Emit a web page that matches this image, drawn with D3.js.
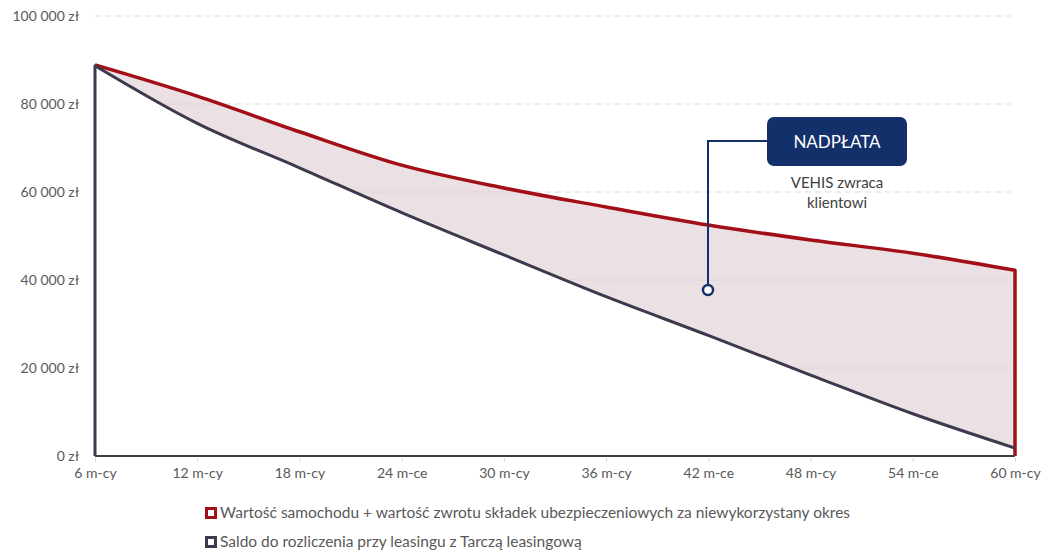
<!DOCTYPE html>
<html>
<head>
<meta charset="utf-8">
<script src="https://cdn.jsdelivr.net/npm/d3@7"></script>
<style>
  body{margin:0;background:#fff;}
  text{font-family:Lato,"Open Sans",sans-serif;}
</style>
</head>
<body>
<div class="canvas"></div>
<script>
// data
const categories=['6 m-cy','12 m-cy','18 m-cy','24 m-ce','30 m-cy','36 m-cy','42 m-ce','48 m-cy','54 m-ce','60 m-cy'];
const carValue=[88900,81800,73700,66100,60900,56600,52500,49100,46100,42200];
const balance=[88700,75600,65500,55300,45700,36200,27400,18400,9600,1800];
const yTicks=[0,20000,40000,60000,80000,100000];
const seriesNames=['Wartość samochodu + wartość zwrotu składek ubezpieczeniowych za niewykorzystany okres','Saldo do rozliczenia przy leasingu z Tarczą leasingową'];

const W=1045,H=552;
const margin={top:16,right:30,bottom:96,left:95};
const graphWidth=W-margin.left-margin.right;
const graphHeight=H-margin.top-margin.bottom;

const svg=d3.select('.canvas').append('svg')
    .attr('width',W)
    .attr('height',H);

const graph=svg.append('g')
    .attr('transform',`translate(${margin.left},${margin.top})`);

const x=d3.scalePoint().domain(categories).range([0,graphWidth]);
const y=d3.scaleLinear().domain([0,100000]).range([graphHeight,0]);

//gridlines
graph.append('g').selectAll('line')
    .data(yTicks.filter(d=>d>0))
    .enter().append('line')
    .attr('x1',0).attr('x2',graphWidth)
    .attr('y1',d=>y(d)).attr('y2',d=>y(d))
    .attr('stroke','#dcdcdc')
    .attr('stroke-dasharray','6,4');

//y labels
graph.append('g').selectAll('text')
    .data(yTicks)
    .enter().append('text')
    .attr('x',-16)
    .attr('y',d=>y(d))
    .attr('dy','0.35em')
    .attr('text-anchor','end')
    .attr('font-size',14)
    .attr('fill','#595959')
    .text(d=>d3.format(',')(d).replace(/,/g,' ')+' zł');

const curve=d3.curveMonotoneX;
const pts=categories.map((c,i)=>({c,a:carValue[i],b:balance[i]}));

const areaA=d3.area().x(d=>x(d.c)).y0(graphHeight).y1(d=>y(d.a)).curve(curve);
const areaB=d3.area().x(d=>x(d.c)).y0(graphHeight).y1(d=>y(d.b)).curve(curve);

svg.append('defs').append('clipPath').attr('id','band')
    .append('path').attr('d',areaA(pts));

//pink band between series
graph.append('path')
    .datum(pts)
    .attr('fill','#ebe1e4')
    .attr('d',areaA);

//faint gridlines showing through the band
graph.append('g').attr('clip-path','url(#band)').selectAll('line')
    .data(yTicks.filter(d=>d>0))
    .enter().append('line')
    .attr('x1',0).attr('x2',graphWidth)
    .attr('y1',d=>y(d)).attr('y2',d=>y(d))
    .attr('stroke','#e3d3d7')
    .attr('stroke-width',1);

//white below the balance
graph.append('path')
    .datum(pts)
    .attr('fill','#fff')
    .attr('d',areaB);

const lineA=d3.line().x(d=>x(d.c)).y(d=>y(d.a)).curve(curve);
const lineB=d3.line().x(d=>x(d.c)).y(d=>y(d.b)).curve(curve);
const last=categories[categories.length-1];

graph.append('path')
    .attr('fill','none')
    .attr('stroke','#a30f17')
    .attr('stroke-width',3.5)
    .attr('stroke-linejoin','round')
    .attr('d',lineA(pts)+`L${x(last)},${y(0)}`);

graph.append('path')
    .attr('fill','none')
    .attr('stroke','#3e3a4d')
    .attr('stroke-width',3)
    .attr('stroke-linejoin','round')
    .attr('d',`M${x(categories[0])},${y(0)}L`+lineB(pts).slice(1));

//x axis
const xAxisGroup=graph.append('g').attr('transform',`translate(0,${graphHeight})`);
xAxisGroup.call(d3.axisBottom(x).tickSize(6).tickPadding(6));
xAxisGroup.select('.domain').remove();
xAxisGroup.selectAll('line').attr('stroke','#d9d9d9').attr('y1',2);
xAxisGroup.selectAll('text')
    .attr('font-size',14)
    .attr('font-family','Lato,sans-serif')
    .attr('fill','#595959');
graph.append('line')
    .attr('x1',0).attr('x2',graphWidth)
    .attr('y1',graphHeight).attr('y2',graphHeight)
    .attr('stroke','#404040')
    .attr('stroke-width',2);

//annotation
const ann=svg.append('g');
ann.append('path')
    .attr('d','M768,141H708V290')
    .attr('fill','none')
    .attr('stroke','#13306b')
    .attr('stroke-width',2);
ann.append('circle')
    .attr('cx',708).attr('cy',290).attr('r',5)
    .attr('fill','#fff')
    .attr('stroke','#13306b')
    .attr('stroke-width',2.5);
ann.append('rect')
    .attr('x',767).attr('y',117)
    .attr('width',140).attr('height',49)
    .attr('rx',7)
    .attr('fill','#13306b');
ann.append('text')
    .attr('x',837).attr('y',142)
    .attr('dy','0.35em')
    .attr('text-anchor','middle')
    .attr('font-size',17)
    .attr('fill','#fff')
    .text('NADPŁATA');
ann.append('text')
    .attr('x',837).attr('y',183)
    .attr('dy','0.35em')
    .attr('text-anchor','middle')
    .attr('font-size',15)
    .attr('fill','#404040')
    .text('VEHIS zwraca');
ann.append('text')
    .attr('x',837).attr('y',203)
    .attr('dy','0.35em')
    .attr('text-anchor','middle')
    .attr('font-size',15)
    .attr('fill','#404040')
    .text('klientowi');

//legend
const legend=svg.append('g').attr('transform','translate(205,507)');
const lg=legend.selectAll('g')
    .data(seriesNames)
    .enter().append('g')
    .attr('transform',(d,i)=>`translate(0,${i*29})`);
lg.append('rect')
    .attr('x',1.5).attr('y',1.5)
    .attr('width',9).attr('height',9)
    .attr('fill','#fff')
    .attr('stroke',(d,i)=>i==0?'#a30f17':'#3e3a4d')
    .attr('stroke-width',3);
lg.append('text')
    .attr('x',15).attr('y',6)
    .attr('dy','0.35em')
    .attr('font-size',15.5)
    .attr('fill','#595959')
    .text(d=>d);
</script>
</body>
</html>
